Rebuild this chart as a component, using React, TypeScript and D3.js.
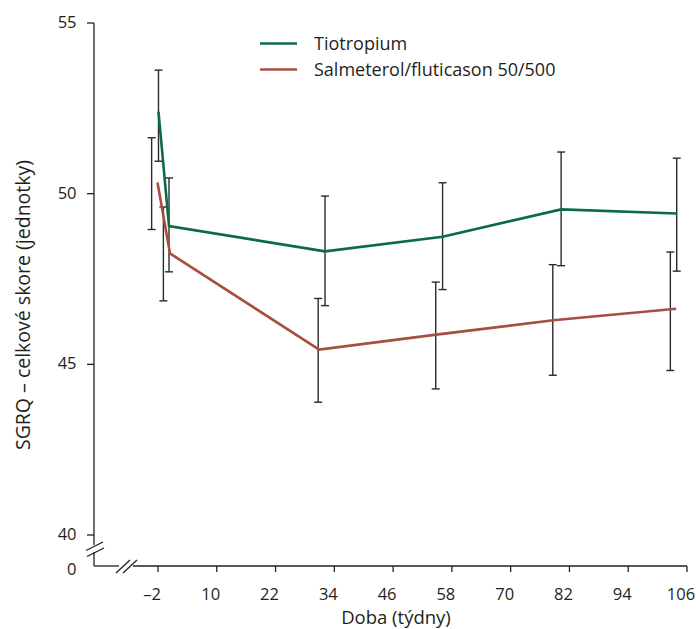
import React from "react";
import * as d3 from "d3";

const xTicks = [-2, 10, 22, 34, 46, 58, 70, 82, 94, 106];
const yTicks = [40, 45, 50, 55];

const tioWeeks = [-1.9, 0.25, 32.1, 56.1, 80.3, 103.9];
const tioMean = [52.4, 49.05, 48.31, 48.74, 49.54, 49.42];
const tioUpper = [53.62, 50.46, 49.93, 50.32, 51.22, 51.04];
const tioLower = [50.95, 47.71, 46.72, 47.19, 47.89, 47.73];

const salWeeks = [-2.1, 0.45, 30.9, 54.8, 78.7, 103.8];
const salMean = [50.33, 48.25, 45.43, 45.87, 46.29, 46.63];
const salBarWeeks = [-3.3, -0.9, 30.7, 54.7, 78.6, 102.6];
const salUpper = [51.64, 49.61, 46.93, 47.41, 47.92, 48.29];
const salLower = [48.95, 46.86, 43.89, 44.28, 44.68, 44.82];

const seriesNames = ["Tiotropium", "Salmeterol/fluticason 50/500"];
const seriesColors = ["#0b6b45", "#a84e40"];

const FONT = "'Open Sans', 'Noto Sans', sans-serif";

export default function App() {
  const W = 696, H = 629;
  const x = d3.scaleLinear().domain([-2, 106]).range([158, 687]);
  const y = d3.scaleLinear().domain([40, 55]).range([535, 23]);
  const axisX = 94;
  const axisY = 566;
  const line = d3
    .line<[number, number]>()
    .x((d) => x(d[0]))
    .y((d) => y(d[1]));
  const tioPts = tioWeeks.map((w, i) => [w, tioMean[i]] as [number, number]);
  const salPts = salWeeks.map((w, i) => [w, salMean[i]] as [number, number]);
  const barColor = "#2a2a2a";
  const cap = 4;
  const textColor = "#231f20";

  const bars = [
    ...tioWeeks.map((w, i) => ({ w, lo: tioLower[i], hi: tioUpper[i] })),
    ...salBarWeeks.map((w, i) => ({ w, lo: salLower[i], hi: salUpper[i] })),
  ];

  return (
    <svg
      width={W}
      height={H}
      style={{ position: "absolute", left: 0, top: 0, background: "#fff" }}
      fontFamily={FONT}
    >
      <rect width={W} height={H} fill="#fff" />
      {/* y axis */}
      <line x1={axisX} y1={y(55)} x2={axisX} y2={545} stroke="#222" strokeWidth={1.3} />
      <line x1={axisX} y1={552} x2={axisX} y2={axisY} stroke="#222" strokeWidth={1.3} />
      <line x1={86} y1={550.5} x2={103} y2={542} stroke="#222" strokeWidth={1.3} />
      <line x1={87} y1={556.5} x2={104} y2={548} stroke="#222" strokeWidth={1.3} />
      {yTicks.map((t) => (
        <g key={t}>
          <line x1={87} x2={axisX} y1={y(t)} y2={y(t)} stroke="#222" strokeWidth={1.3} />
          <text x={76.5} y={y(t) + 5} textAnchor="end" fontSize={16.5} fill={textColor}>
            {t}
          </text>
        </g>
      ))}
      <text x={76.5} y={575} textAnchor="end" fontSize={16.5} fill={textColor}>
        0
      </text>
      {/* x axis */}
      <line x1={axisX} y1={axisY} x2={119} y2={axisY} stroke="#222" strokeWidth={1.3} />
      <line x1={133} y1={axisY} x2={x(106)} y2={axisY} stroke="#222" strokeWidth={1.3} />
      <line x1={116} y1={573} x2={130} y2={560} stroke="#222" strokeWidth={1.3} />
      <line x1={123} y1={573} x2={137} y2={560} stroke="#222" strokeWidth={1.3} />
      {xTicks.map((t) => (
        <g key={t}>
          <line x1={x(t)} x2={x(t)} y1={axisY} y2={axisY + 6} stroke="#222" strokeWidth={1.3} />
          <text x={x(t) - 6} y={600} textAnchor="middle" fontSize={16.5} fill={textColor}>
            {t < 0 ? "\u2013" + Math.abs(t) : t}
          </text>
        </g>
      ))}
      <text x={396} y={624} textAnchor="middle" fontSize={18.5} fill={textColor}>
        Doba (týdny)
      </text>
      <text
        transform={`translate(30, 305) rotate(-90)`}
        textAnchor="middle"
        fontSize={19.5}
        fill={textColor}
      >
        SGRQ – celkové skore (jednotky)
      </text>
      {/* error bars */}
      {bars.map((b, i) => (
        <g key={i} stroke={barColor} strokeWidth={1.4}>
          <line x1={x(b.w)} x2={x(b.w)} y1={y(b.hi)} y2={y(b.lo)} />
          <line x1={x(b.w) - cap} x2={x(b.w) + cap} y1={y(b.hi)} y2={y(b.hi)} />
          <line x1={x(b.w) - cap} x2={x(b.w) + cap} y1={y(b.lo)} y2={y(b.lo)} />
        </g>
      ))}
      {/* lines */}
      <path d={line(salPts) || ""} fill="none" stroke={seriesColors[1]} strokeWidth={2.6} />
      <path d={line(tioPts) || ""} fill="none" stroke={seriesColors[0]} strokeWidth={2.6} />
      {/* legend */}
      {seriesNames.map((n, i) => (
        <g key={n} transform={`translate(260, ${43.5 + i * 26})`}>
          <line x1={0} x2={37} y1={0} y2={0} stroke={seriesColors[i]} strokeWidth={2.6} />
          <text x={54} y={6.5} fontSize={18} fill={textColor}>
            {n}
          </text>
        </g>
      ))}
    </svg>
  );
}
